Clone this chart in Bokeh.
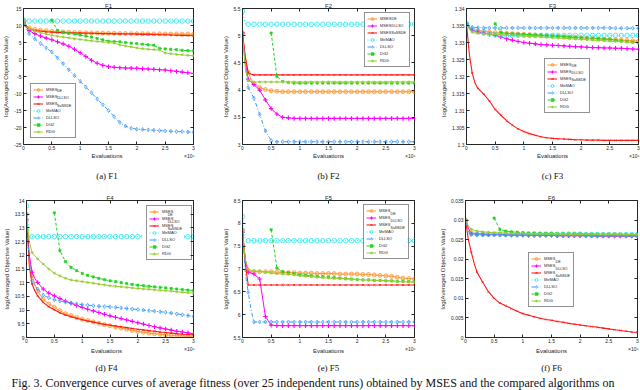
import numpy as np
from bokeh.plotting import figure
from bokeh.models import (Range1d, FixedTicker, CustomJSTickFormatter, Legend,
                          LegendItem, Label, ColumnDataSource, LinearAxis)
from bokeh.core.properties import value
from bokeh.layouts import column, row
from bokeh.embed import file_html
from bokeh.resources import INLINE

N = None
# evaluations (x 10^6)
X = [0, 0.05, 0.1, 0.15, 0.2, 0.3, 0.4, 0.5,
     0.6, 0.7, 0.8, 0.9, 1.0,
     1.1, 1.2, 1.3, 1.4, 1.5,
     1.6, 1.7, 1.8, 1.9, 2.0,
     2.1, 2.2, 2.3, 2.4, 2.5,
     2.6, 2.7, 2.8, 2.9, 3.0]
XTICKS = [0, 0.5, 1, 1.5, 2, 2.5, 3]

SERIES = ["MSES_DE", "MSES_DLLSO", "MSES_SaNSDE", "MeMAO", "DLLSO", "DG2", "RDG"]
LEG_MAIN = ["MSES", "MSES", "MSES", "MeMAO", "DLLSO", "DG2", "RDG"]
LEG_SUB = ["DE", "DLLSO", "SaNSDE", "", "", "", ""]

# ---------------- F1 ----------------
F1_YTICKS = [-25, -20, -15, -10, -5, 0, 5, 10, 15]
F1_MSES_DE = [11.5, 10.0, 9.3, 9.0, 8.85, 8.6, 8.45, 8.3,
              8.2, 8.1, 8.0, 7.95, 7.9,
              7.85, 7.8, 7.8, 7.75, 7.7,
              7.7, 7.65, 7.65, 7.6, 7.6,
              7.6, 7.55, 7.55, 7.55, 7.5,
              7.5, 7.5, 7.45, 7.45, 7.4]
F1_MSES_DLLSO = [11.0, 9.5, 8.5, 8.0, 7.6, 6.9, 6.3, 5.8,
                 5.2, 4.6, 3.9, 3.0, 2.0,
                 0.9, -0.2, -1.1, -1.7, -2.1,
                 -2.3, -2.4, -2.5, -2.55, -2.6,
                 -2.7, -2.8, -2.9, -3.0, -3.1,
                 -3.3, -3.5, -3.7, -3.9, -4.1]
F1_MSES_SaNSDE = [11.5, 9.8, 9.0, 8.7, 8.5, 8.3, 8.15, 8.05,
                  7.95, 7.9, 7.85, 7.8, 7.75,
                  7.7, 7.7, 7.65, 7.6, 7.6,
                  7.55, 7.55, 7.5, 7.5, 7.45,
                  7.4, 7.4, 7.35, 7.3, 7.3,
                  7.2, 7.15, 7.1, 7.05, 7.0]
F1_MeMAO = [11.6, 11.35, 11.3, 11.3, 11.3, 11.3, 11.3, 11.3,
            11.3, 11.3, 11.3, 11.3, 11.3,
            11.3, 11.3, 11.3, 11.3, 11.3,
            11.3, 11.3, 11.3, 11.3, 11.3,
            11.3, 11.3, 11.3, 11.3, 11.3,
            11.3, 11.3, 11.3, 11.3, 11.3]
F1_DLLSO = [10.5, 9.0, 7.6, 6.8, 6.1, 4.7, 3.4, 2.2,
            0.5, -1.2, -3.0, -4.7, -6.4,
            -8.1, -9.8, -11.6, -13.3, -15.0,
            -16.8, -18.5, -19.6, -20.2, -20.5,
            -20.6, -20.7, -20.8, -20.9, -21.0,
            -21.1, -21.2, -21.2, -21.3, -21.4]
F1_DG2 = [N, N, N, N, N, N, N, 11.5,
          8.6, 8.0, 7.7, 7.5, 7.2,
          6.9, 6.6, 6.2, 5.8, 5.4,
          5.3, 5.2, 5.0, 4.8, 4.7,
          4.5, 4.3, 4.2, 3.3, 3.1,
          3.0, 2.9, 2.7, 2.6, 2.5]
F1_RDG = [11.0, 9.8, 9.0, 8.6, 8.3, 7.9, 7.5, 7.1,
          6.8, 6.6, 6.4, 6.1, 5.9,
          5.7, 5.5, 5.3, 5.2, 5.0,
          4.8, 4.3, 4.0, 3.7, 3.4,
          3.2, 3.0, 2.9, 2.8, 1.9,
          1.7, 1.5, 1.4, 1.2, 1.1]

# ---------------- F2 ----------------
F2_YTICKS = [3, 3.5, 4, 4.5, 5, 5.5]
F2_MSES_DE = [5.05, 4.6, 4.32, 4.2, 4.12, 4.05, 4.01, 3.99,
              3.98, 3.97, 3.97, 3.97, 3.97,
              3.97, 3.97, 3.97, 3.97, 3.97,
              3.97, 3.97, 3.97, 3.97, 3.97,
              3.97, 3.97, 3.97, 3.97, 3.97,
              3.97, 3.97, 3.97, 3.97, 3.97]
F2_MSES_DLLSO = [5.05, 4.5, 4.2, 4.15, 4.1, 4.0, 3.82, 3.66,
                 3.56, 3.5, 3.49, 3.48, 3.48,
                 3.48, 3.48, 3.48, 3.48, 3.48,
                 3.48, 3.48, 3.48, 3.48, 3.48,
                 3.48, 3.48, 3.48, 3.48, 3.48,
                 3.48, 3.48, 3.48, 3.48, 3.48]
F2_MSES_SaNSDE = [5.05, 4.6, 4.32, 4.29, 4.28, 4.28, 4.28, 4.28,
                  4.28, 4.28, 4.28, 4.28, 4.28,
                  4.28, 4.28, 4.28, 4.28, 4.28,
                  4.28, 4.28, 4.28, 4.28, 4.28,
                  4.28, 4.28, 4.28, 4.28, 4.28,
                  4.28, 4.28, 4.28, 4.28, 4.28]
F2_MeMAO = [5.45, 5.22, 5.21, 5.21, 5.21, 5.21, 5.21, 5.21,
            5.21, 5.21, 5.21, 5.21, 5.21,
            5.21, 5.21, 5.21, 5.21, 5.21,
            5.21, 5.21, 5.21, 5.21, 5.21,
            5.21, 5.21, 5.21, 5.21, 5.21,
            5.21, 5.21, 5.21, 5.21, 5.21]
F2_DLLSO = [5.05, 4.45, 4.05, 3.95, 3.85, 3.55, 3.25, 3.07,
            3.05, 3.05, 3.05, 3.05, 3.05,
            3.05, 3.05, 3.05, 3.05, 3.05,
            3.05, 3.05, 3.05, 3.05, 3.05,
            3.05, 3.05, 3.05, 3.05, 3.05,
            3.05, 3.05, 3.05, 3.05, 3.05]
F2_DG2 = [N, N, N, N, N, N, N, 5.05,
          4.25, 4.16, 4.14, 4.13, 4.13,
          4.13, 4.13, 4.13, 4.13, 4.13,
          4.13, 4.13, 4.13, 4.13, 4.13,
          4.13, 4.13, 4.13, 4.13, 4.13,
          4.13, 4.13, 4.13, 4.13, 4.13]
F2_RDG = [5.0, 4.4, 4.17, 4.16, 4.15, 4.15, 4.15, 4.15,
          4.15, 4.15, 4.15, 4.15, 4.15,
          4.15, 4.15, 4.15, 4.15, 4.15,
          4.15, 4.15, 4.15, 4.15, 4.15,
          4.15, 4.15, 4.15, 4.15, 4.15,
          4.15, 4.15, 4.15, 4.15, 4.15]

# ---------------- F3 ----------------
F3_YTICKS = [1.3, 1.305, 1.31, 1.315, 1.32, 1.325, 1.33, 1.335, 1.34]
F3_MSES_DE = [1.3355, 1.3345, 1.3338, 1.3336, 1.3335, 1.3333, 1.3331, 1.3329,
              1.3328, 1.3327, 1.3326, 1.3325, 1.3324,
              1.3323, 1.3322, 1.3321, 1.332, 1.3319,
              1.3318, 1.3317, 1.3316, 1.3315, 1.3314,
              1.3313, 1.3312, 1.3311, 1.331, 1.3309,
              1.3308, 1.3307, 1.3306, 1.3305, 1.3304]
F3_MSES_DLLSO = [1.3355, 1.3342, 1.3336, 1.3333, 1.3331, 1.3328, 1.3325, 1.3321,
                 1.3316, 1.3311, 1.3307, 1.3303, 1.33,
                 1.3298, 1.3296, 1.3294, 1.3293, 1.3292,
                 1.3291, 1.329, 1.3289, 1.3288, 1.3287,
                 1.3286, 1.3285, 1.3285, 1.3284, 1.3284,
                 1.3283, 1.3283, 1.3282, 1.3281, 1.328]
F3_MSES_SaNSDE = [1.3355, 1.3265, 1.321, 1.318, 1.3165, 1.3148, 1.3128, 1.3103,
                  1.3086, 1.307, 1.3057, 1.3046, 1.3038,
                  1.3032, 1.3027, 1.3023, 1.302, 1.3018,
                  1.3017, 1.3016, 1.3015, 1.3014, 1.3014,
                  1.3013, 1.3013, 1.3013, 1.3012, 1.3012,
                  1.3012, 1.3012, 1.3012, 1.3012, 1.3012]
F3_MeMAO = [1.3355, 1.3345, 1.334, 1.3335, 1.3332, 1.3328, 1.3325, 1.3323,
            1.3322, 1.3321, 1.3321, 1.3321, 1.3321,
            1.3321, 1.3321, 1.3321, 1.3321, 1.3321,
            1.3321, 1.3321, 1.3321, 1.3321, 1.3321,
            1.3321, 1.3321, 1.3321, 1.3321, 1.3321,
            1.3321, 1.3321, 1.3321, 1.3321, 1.3321]
F3_DLLSO = [1.3355, 1.3348, 1.3345, 1.3344, 1.3344, 1.3343, 1.3343, 1.3343,
            1.3343, 1.3343, 1.3343, 1.3343, 1.3343,
            1.3343, 1.3343, 1.3343, 1.3343, 1.3343,
            1.3343, 1.3343, 1.3343, 1.3343, 1.3343,
            1.3343, 1.3343, 1.3343, 1.3343, 1.3343,
            1.3342, 1.3342, 1.3342, 1.3342, 1.3342]
F3_DG2 = [N, N, N, N, N, N, N, 1.3355,
          1.333, 1.3327, 1.3326, 1.3325, 1.3324,
          1.3323, 1.3322, 1.3321, 1.332, 1.3319,
          1.3318, 1.3317, 1.3316, 1.3315, 1.3314,
          1.3313, 1.3312, 1.3311, 1.331, 1.3309,
          1.3307, 1.3305, 1.3303, 1.3301, 1.3299]
F3_RDG = [1.3355, 1.3338, 1.333, 1.3328, 1.3327, 1.3326, 1.3325, 1.3324,
          1.3323, 1.3322, 1.3321, 1.332, 1.3319,
          1.3318, 1.3317, 1.3316, 1.3315, 1.3314,
          1.3313, 1.3312, 1.3311, 1.331, 1.3309,
          1.3308, 1.3307, 1.3306, 1.3305, 1.3304,
          1.3303, 1.3302, 1.3301, 1.33, 1.33]

# ---------------- F4 ----------------
F4_YTICKS = [9, 9.5, 10, 10.5, 11, 11.5, 12, 12.5, 13, 13.5, 14]
F4_MSES_DE = [13.5, 12.0, 11.26, 10.95, 10.7, 10.4, 10.22, 10.1,
              9.98, 9.87, 9.8, 9.73, 9.67,
              9.62, 9.57, 9.52, 9.47, 9.43,
              9.38, 9.34, 9.3, 9.26, 9.22,
              9.19, 9.16, 9.14, 9.12, 9.1,
              9.08, 9.07, 9.06, 9.05, 9.04]
F4_MSES_DLLSO = [13.3, 12.0, 11.38, 11.15, 11.01, 10.77, 10.62, 10.52,
                 10.42, 10.33, 10.25, 10.17, 10.1,
                 10.03, 9.97, 9.91, 9.85, 9.79,
                 9.74, 9.69, 9.64, 9.59, 9.54,
                 9.49, 9.44, 9.39, 9.35, 9.31,
                 9.27, 9.23, 9.2, 9.17, 9.14]
F4_MSES_SaNSDE = [13.5, 11.6, 10.95, 10.7, 10.52, 10.28, 10.12, 10.01,
                  9.9, 9.82, 9.76, 9.7, 9.65,
                  9.6, 9.56, 9.52, 9.48, 9.45,
                  9.42, 9.39, 9.36, 9.33, 9.3,
                  9.28, 9.25, 9.23, 9.2, 9.18,
                  9.16, 9.14, 9.12, 9.11, 9.1]
F4_MeMAO = [13.8, 12.7, 12.68, 12.68, 12.68, 12.68, 12.68, 12.68,
            12.68, 12.68, 12.68, 12.68, 12.68,
            12.68, 12.68, 12.68, 12.68, 12.68,
            12.68, 12.68, 12.68, 12.68, 12.68,
            12.68, 12.68, 12.68, 12.68, 12.68,
            12.68, 12.68, 12.68, 12.68, 12.68]
F4_DLLSO = [13.3, 11.8, 11.07, 10.9, 10.77, 10.55, 10.45, 10.38,
            10.33, 10.29, 10.26, 10.23, 10.2,
            10.18, 10.16, 10.14, 10.13, 10.12,
            10.1, 10.08, 10.06, 10.04, 10.02,
            10.0, 9.98, 9.96, 9.94, 9.92,
            9.89, 9.86, 9.83, 9.8, 9.77]
F4_DG2 = [N, N, N, N, N, N, N, 13.55,
          12.17, 11.77, 11.56, 11.44, 11.34,
          11.27, 11.21, 11.16, 11.11, 11.07,
          11.04, 11.0, 10.97, 10.94, 10.91,
          10.89, 10.87, 10.85, 10.83, 10.81,
          10.79, 10.77, 10.75, 10.73, 10.72]
F4_RDG = [13.5, 12.5, 12.1, 11.98, 11.87, 11.68, 11.5, 11.35,
          11.25, 11.16, 11.1, 11.07, 11.04,
          11.01, 10.98, 10.95, 10.92, 10.89,
          10.87, 10.85, 10.83, 10.81, 10.79,
          10.77, 10.76, 10.74, 10.72, 10.71,
          10.69, 10.67, 10.65, 10.63, 10.62]

# ---------------- F5 ----------------
F5_YTICKS = [5.5, 6, 6.5, 7, 7.5, 8, 8.5]
F5_MSES_DE = [7.85, 7.2, 6.95, 6.94, 6.94, 6.94, 6.94, 6.94,
              6.93, 6.93, 6.92, 6.92, 6.91,
              6.91, 6.91, 6.9, 6.9, 6.9,
              6.9, 6.89, 6.89, 6.89, 6.89,
              6.88, 6.88, 6.87, 6.86, 6.85,
              6.84, 6.82, 6.8, 6.79, 6.78]
F5_MSES_DLLSO = [7.8, 7.2, 6.93, 6.91, 6.89, 6.78, 5.96, 5.77,
                 5.76, 5.76, 5.76, 5.76, 5.76,
                 5.76, 5.76, 5.76, 5.76, 5.76,
                 5.76, 5.76, 5.76, 5.76, 5.76,
                 5.76, 5.76, 5.76, 5.76, 5.76,
                 5.76, 5.76, 5.76, 5.76, 5.76]
F5_MSES_SaNSDE = [7.85, 7.1, 6.65, 6.65, 6.65, 6.65, 6.65, 6.65,
                  6.65, 6.65, 6.65, 6.65, 6.65,
                  6.65, 6.65, 6.65, 6.65, 6.65,
                  6.65, 6.65, 6.65, 6.65, 6.65,
                  6.65, 6.65, 6.65, 6.65, 6.65,
                  6.65, 6.65, 6.65, 6.65, 6.65]
F5_MeMAO = [8.15, 7.65, 7.62, 7.62, 7.62, 7.62, 7.62, 7.62,
            7.62, 7.62, 7.62, 7.62, 7.62,
            7.62, 7.62, 7.62, 7.62, 7.62,
            7.62, 7.62, 7.62, 7.62, 7.62,
            7.62, 7.62, 7.62, 7.62, 7.62,
            7.62, 7.62, 7.62, 7.62, 7.62]
F5_DLLSO = [7.8, 6.9, 6.49, 6.1, 5.84, 5.84, 5.84, 5.84,
            5.84, 5.84, 5.84, 5.84, 5.84,
            5.84, 5.84, 5.84, 5.84, 5.84,
            5.84, 5.84, 5.84, 5.84, 5.84,
            5.84, 5.84, 5.84, 5.84, 5.84,
            5.84, 5.84, 5.84, 5.84, 5.84]
F5_DG2 = [N, N, N, N, N, N, N, 7.86,
          7.02, 6.94, 6.92, 6.9, 6.87,
          6.86, 6.85, 6.84, 6.83, 6.82,
          6.81, 6.8, 6.79, 6.78, 6.77,
          6.76, 6.76, 6.75, 6.75, 6.74,
          6.74, 6.73, 6.73, 6.72, 6.72]
F5_RDG = [7.8, 7.2, 7.0, 6.97, 6.96, 6.95, 6.93, 6.91,
          6.9, 6.89, 6.88, 6.87, 6.85,
          6.84, 6.83, 6.82, 6.81, 6.8,
          6.79, 6.79, 6.78, 6.78, 6.77,
          6.76, 6.76, 6.75, 6.75, 6.74,
          6.74, 6.73, 6.72, 6.72, 6.71]

# ---------------- F6 ----------------
F6_YTICKS = [0, 0.005, 0.01, 0.015, 0.02, 0.025, 0.03, 0.035]
F6_MSES_DE = [0.03, 0.028, 0.0268, 0.0266, 0.0265, 0.0265, 0.0264, 0.0264,
              0.0264, 0.0263, 0.0263, 0.0263, 0.0263,
              0.0262, 0.0262, 0.0262, 0.0262, 0.0262,
              0.0261, 0.0261, 0.0261, 0.0261, 0.0261,
              0.0261, 0.026, 0.026, 0.026, 0.026,
              0.026, 0.026, 0.026, 0.026, 0.026]
F6_MSES_DLLSO = [0.03, 0.0278, 0.0266, 0.0265, 0.0264, 0.0264, 0.0263, 0.0263,
                 0.0263, 0.0262, 0.0262, 0.0262, 0.0262,
                 0.0261, 0.0261, 0.0261, 0.0261, 0.0261,
                 0.026, 0.026, 0.026, 0.026, 0.026,
                 0.026, 0.026, 0.0259, 0.0259, 0.0259,
                 0.0259, 0.0259, 0.0259, 0.0259, 0.0259]
F6_MSES_SaNSDE = [0.03, 0.025, 0.0218, 0.019, 0.0167, 0.0141, 0.0117, 0.01,
                  0.0088, 0.0081, 0.0074, 0.0067, 0.0061,
                  0.0057, 0.0053, 0.0049, 0.0046, 0.0044,
                  0.0041, 0.0039, 0.0036, 0.0034, 0.0032,
                  0.003, 0.0028, 0.0026, 0.0024, 0.0022,
                  0.002, 0.0018, 0.0016, 0.0014, 0.0013]
F6_MeMAO = [0.0295, 0.027, 0.0265, 0.0264, 0.0264, 0.0264, 0.0264, 0.0264,
            0.0264, 0.0264, 0.0264, 0.0264, 0.0264,
            0.0264, 0.0264, 0.0264, 0.0264, 0.0264,
            0.0264, 0.0264, 0.0264, 0.0264, 0.0264,
            0.0263, 0.0263, 0.0263, 0.0263, 0.0263,
            0.0263, 0.0263, 0.0263, 0.0263, 0.0263]
F6_DLLSO = [0.0295, 0.027, 0.0263, 0.0262, 0.0262, 0.0262, 0.0262, 0.0262,
            0.0262, 0.0262, 0.0261, 0.0261, 0.0261,
            0.0261, 0.0261, 0.0261, 0.0261, 0.0261,
            0.0261, 0.0261, 0.0261, 0.0261, 0.0261,
            0.026, 0.026, 0.026, 0.026, 0.026,
            0.026, 0.026, 0.026, 0.026, 0.026]
F6_DG2 = [N, N, N, N, N, N, N, 0.0305,
          0.0276, 0.0272, 0.027, 0.0269, 0.0268,
          0.0267, 0.0267, 0.0266, 0.0266, 0.0266,
          0.0265, 0.0265, 0.0265, 0.0265, 0.0265,
          0.0264, 0.0264, 0.0264, 0.0264, 0.0264,
          0.0264, 0.0263, 0.0263, 0.0263, 0.0263]
F6_RDG = [0.0302, 0.0285, 0.0277, 0.0274, 0.0272, 0.027, 0.0269, 0.0268,
          0.0267, 0.0267, 0.0266, 0.0266, 0.0266,
          0.0265, 0.0265, 0.0265, 0.0265, 0.0265,
          0.0265, 0.0264, 0.0264, 0.0264, 0.0264,
          0.0264, 0.0264, 0.0264, 0.0264, 0.0264,
          0.0264, 0.0264, 0.0263, 0.0263, 0.0263]

X_LABEL = "Evaluations"
X_EXP = "×10⁶"
Y_LABEL = "log(Averaged Objective Value)"
FIG_CAPTION = ("Fig. 3. Convergence curves of average fitness (over 25 independent runs) "
               "obtained by MSES and the compared algorithms on")

STYLE = {
    "MSES_DE": dict(color="#FF9933", dash="solid", marker="circle", size=4.0, fill_alpha=0.35, lw=1.0, mlw=0.8),
    "MSES_DLLSO": dict(color="#FF00FF", dash="solid", marker="cross", size=4.5, fill_alpha=1.0, lw=1.0, mlw=1.1),
    "MSES_SaNSDE": dict(color="#FF1A1A", dash="solid", marker="x", size=2.5, fill_alpha=1.0, lw=1.1, mlw=0.8),
    "MeMAO": dict(color="#22E6F0", dash="1 2", marker="circle", size=4.5, fill_alpha=0.0, lw=1.0, mlw=0.8),
    "DLLSO": dict(color="#3D9BF5", dash="4 2 1 2", marker="diamond", size=4.0, fill_alpha=0.15, lw=1.0, mlw=0.7),
    "DG2": dict(color="#1FD51F", dash="3 2", marker="square", size=2.2, fill_alpha=1.0, lw=1.0, mlw=0.6),
    "RDG": dict(color="#9ACD32", dash="solid", marker="asterisk", size=3.0, fill_alpha=0.0, lw=1.0, mlw=0.7),
}

FONT = "Liberation Sans"
TICKFMT = CustomJSTickFormatter(code="return String(parseFloat(tick.toPrecision(8)));")

COL_X = [0, 215, 430]
PANELS = [
    dict(title="F1", cap="(a) F1", ys=[F1_MSES_DE, F1_MSES_DLLSO, F1_MSES_SaNSDE, F1_MeMAO, F1_DLLSO, F1_DG2, F1_RDG],
         yr=(-25, 15), yt=F1_YTICKS, leg=(7, 6), w=215, bl=20, br=22),
    dict(title="F2", cap="(b) F2", ys=[F2_MSES_DE, F2_MSES_DLLSO, F2_MSES_SaNSDE, F2_MeMAO, F2_DLLSO, F2_DG2, F2_RDG],
         yr=(3, 5.5), yt=F2_YTICKS, leg=(122, 77), w=215, bl=27, br=16),
    dict(title="F3", cap="(c) F3", ys=[F3_MSES_DE, F3_MSES_DLLSO, F3_MSES_SaNSDE, F3_MeMAO, F3_DLLSO, F3_DG2, F3_RDG],
         yr=(1.3, 1.34), yt=F3_YTICKS, leg=(78, 31), w=210, bl=36, br=2),
    dict(title="F4", cap="(d) F4", ys=[F4_MSES_DE, F4_MSES_DLLSO, F4_MSES_SaNSDE, F4_MeMAO, F4_DLLSO, F4_DG2, F4_RDG],
         yr=(9, 14), yt=F4_YTICKS, leg=(120, 77), w=215, bl=19, br=22),
    dict(title="F5", cap="(e) F5", ys=[F5_MSES_DE, F5_MSES_DLLSO, F5_MSES_SaNSDE, F5_MeMAO, F5_DLLSO, F5_DG2, F5_RDG],
         yr=(5.5, 8.5), yt=F5_YTICKS, leg=(121, 78), w=215, bl=27, br=16),
    dict(title="F6", cap="(f) F6", ys=[F6_MSES_DE, F6_MSES_DLLSO, F6_MSES_SaNSDE, F6_MeMAO, F6_DLLSO, F6_DG2, F6_RDG],
         yr=(0, 0.035), yt=F6_YTICKS, leg=(63, 30), w=210, bl=35, br=3),
]
# plot height, borders, approx. frame height; strip below each row holds x label, exponent and caption
ROWS = [dict(h=152, bt=6, bb=8, fh=133, strip_h=34, lab_y=30.5, exp_y=34, cap_y=11),
        dict(h=159, bt=14, bb=8, fh=137, strip_h=30, lab_y=25, exp_y=30, cap_y=8)]

xa = np.array(X, dtype=float)
mark_mask = np.isclose(xa * 10, np.round(xa * 10))

LEG_PAD, LEG_GW, LEG_GH, LEG_STAND, LEG_LW = 2, 10, 7, 3, 27


def style_axis(ax, labels=True):
    ax.axis_line_color = "#262626"
    ax.major_tick_line_color = "#262626"
    ax.major_tick_in = 3
    ax.major_tick_out = 0
    ax.minor_tick_line_color = None
    ax.major_label_text_font = FONT
    ax.major_label_text_color = "#262626"
    ax.axis_label_text_font = FONT
    ax.axis_label_text_font_size = "6px"
    ax.axis_label_text_font_style = "normal"
    ax.axis_label_text_color = "#262626"
    if labels:
        ax.major_label_text_font_size = "5px"
        ax.major_label_standoff = 2
        ax.axis_label_standoff = 2
        ax.formatter = TICKFMT
    else:
        ax.major_label_text_font_size = "0px"
        ax.major_label_text_alpha = 0
        ax.major_label_standoff = 0
        ax.axis_line_color = None


def make_panel(cfg, rcfg):
    x0, x1 = 0.0, 3.0
    y0, y1 = cfg["yr"]
    p = figure(width=cfg["w"], height=rcfg["h"], x_range=Range1d(x0, x1), y_range=Range1d(y0, y1),
               output_backend="svg", toolbar_location=None,
               min_border_left=cfg["bl"], min_border_right=cfg["br"],
               min_border_top=rcfg["bt"], min_border_bottom=rcfg["bb"])
    p.title.text = cfg["title"]
    p.title.align = "center"
    p.title.text_font = FONT
    p.title.text_font_size = "6px"
    p.title.text_font_style = "normal"
    p.title.text_color = "#262626"
    p.title.standoff = 0
    p.xgrid.visible = False
    p.ygrid.visible = False
    p.outline_line_color = "#262626"
    p.outline_line_alpha = 1
    p.outline_line_width = 1
    style_axis(p.xaxis[0])
    style_axis(p.yaxis[0])
    p.xaxis[0].major_label_standoff = 1
    p.xaxis[0].ticker = FixedTicker(ticks=XTICKS)
    p.yaxis[0].ticker = FixedTicker(ticks=cfg["yt"])
    p.yaxis[0].axis_label = Y_LABEL
    top = LinearAxis(ticker=FixedTicker(ticks=XTICKS))
    style_axis(top, labels=False)
    p.add_layout(top, "above")
    right = LinearAxis(ticker=FixedTicker(ticks=cfg["yt"]))
    style_axis(right, labels=False)
    p.add_layout(right, "right")

    items = []
    for name, main, vals in zip(SERIES, LEG_MAIN, cfg["ys"]):
        st = STYLE[name]
        y = np.array(vals, dtype=float)
        src = ColumnDataSource(dict(x=xa, y=y))
        ln = p.line("x", "y", source=src, line_color=st["color"], line_width=st["lw"], line_dash=st["dash"])
        m = mark_mask & ~np.isnan(y)
        sc = p.scatter(x=xa[m], y=y[m], marker=st["marker"], size=st["size"], line_color=st["color"],
                       fill_color=st["color"], fill_alpha=st["fill_alpha"], line_width=st["mlw"])
        items.append(LegendItem(label=main, renderers=[ln, sc]))

    # pixel -> data conversion for the legend area (frame size from the layout settings)
    fw = cfg["w"] - cfg["bl"] - cfg["br"]
    fh = rcfg["fh"]
    lx, ly = cfg["leg"]
    H = 2 * LEG_PAD + len(SERIES) * LEG_GH
    W = 2 * LEG_PAD + LEG_GW + LEG_STAND + LEG_LW

    def dx(px):
        return x0 + px / fw * (x1 - x0)

    def dy(py):
        return y0 + py / fh * (y1 - y0)

    # white legend background drawn over the curves
    p.quad(left=[dx(lx)], right=[dx(lx + W)], bottom=[dy(ly)], top=[dy(ly + H)],
           fill_color="white", line_color=None)

    leg = Legend(items=items, location=(lx, ly), label_text_font=FONT, label_text_font_size="4px",
                 label_text_color="#262626",
                 glyph_height=LEG_GH, glyph_width=LEG_GW, label_height=LEG_GH, label_width=LEG_LW,
                 spacing=0, padding=LEG_PAD, margin=0, label_standoff=LEG_STAND,
                 border_line_color="#262626", border_line_width=1, background_fill_alpha=0)
    p.add_layout(leg)

    # subscripts of the legend labels
    w_main = 11.3
    sxs, sys_, subs = [], [], []
    for i, sub in enumerate(LEG_SUB):
        if not sub:
            continue
        sy = ly + H - LEG_PAD - i * LEG_GH - LEG_GH / 2.0 - 1.5
        sx = lx + LEG_PAD + LEG_GW + LEG_STAND + w_main + 0.8
        sxs.append(dx(sx))
        sys_.append(dy(sy))
        subs.append(sub)
    p.text(x=sxs, y=sys_, text=subs, text_font=value(FONT), text_font_size="3.6px",
           text_baseline="middle", text_align="left", text_color="#1a1a1a", level="overlay")
    return p


def make_strip(panels, rcfg):
    s = figure(width=sum(c["w"] for c in panels), height=rcfg["strip_h"],
               x_range=Range1d(0, 1), y_range=Range1d(0, 1),
               output_backend="svg", toolbar_location=None, min_border=0,
               x_axis_location=None, y_axis_location=None)
    s.xgrid.visible = False
    s.ygrid.visible = False
    s.outline_line_color = None
    for cx0, c in zip(COL_X, panels):
        fl = cx0 + c["bl"]
        fw = c["w"] - c["bl"] - c["br"]
        s.add_layout(Label(x=fl + fw / 2.0, y=rcfg["lab_y"], x_units="screen", y_units="screen",
                           text=X_LABEL, text_align="center", text_baseline="middle",
                           text_font=FONT, text_font_size="6px", text_color="#262626"))
        s.add_layout(Label(x=fl + fw + 1, y=rcfg["exp_y"], x_units="screen", y_units="screen",
                           text=X_EXP, text_align="right", text_baseline="top",
                           text_font=FONT, text_font_size="5px", text_color="#262626"))
        s.add_layout(Label(x=fl + fw / 2.0, y=rcfg["cap_y"], x_units="screen", y_units="screen",
                           text=c["cap"], text_align="center", text_baseline="middle",
                           text_font="Liberation Serif", text_font_size="9px", text_color="#111111"))
    return s


rows = []
for r in range(2):
    pcfgs = PANELS[3 * r:3 * r + 3]
    figs = [make_panel(c, ROWS[r]) for c in pcfgs]
    rows.append(row(*figs))
    rows.append(make_strip(pcfgs, ROWS[r]))

capfig = figure(width=640, height=15, x_range=Range1d(0, 1), y_range=Range1d(0, 1),
                output_backend="svg", toolbar_location=None, min_border=0,
                x_axis_location=None, y_axis_location=None)
capfig.xgrid.visible = False
capfig.ygrid.visible = False
capfig.outline_line_color = None
capfig.add_layout(Label(x=11, y=14.5, x_units="screen", y_units="screen", text=FIG_CAPTION,
                        text_baseline="top", text_font="Liberation Serif", text_font_size="12px",
                        text_color="#111111"))
rows.append(capfig)

layout = column(*rows)

open("out.html", "w").write(file_html(layout, INLINE))
